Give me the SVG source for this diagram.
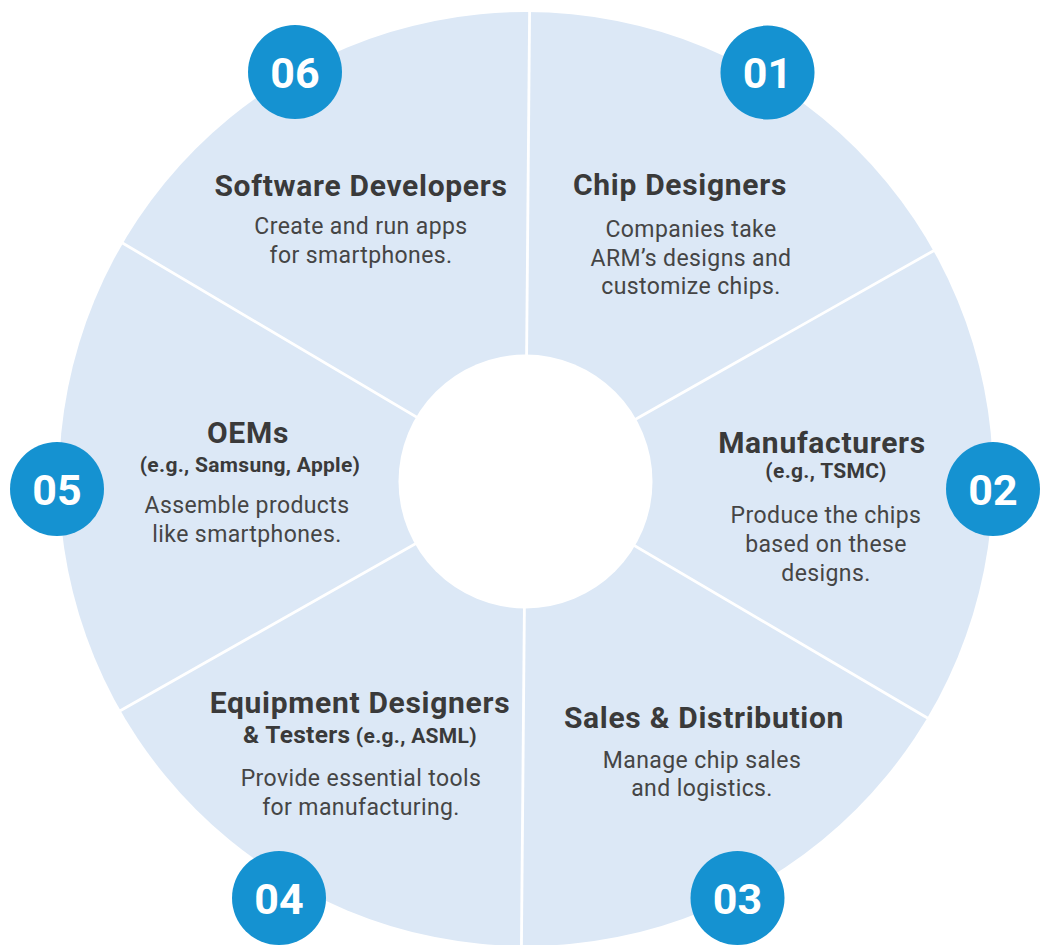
<svg xmlns="http://www.w3.org/2000/svg" width="1043" height="945" viewBox="0 0 1043 945">
<style>
.title{font-family:Roboto,"Liberation Sans",sans-serif;font-weight:700;font-size:30px;fill:#3a3a3a;text-anchor:middle;letter-spacing:0.7px}
.sub{font-family:Roboto,"Liberation Sans",sans-serif;font-weight:700;font-size:21px;fill:#3a3a3a;text-anchor:middle;letter-spacing:0.3px}
.big{font-size:24.5px}
.body{font-family:Roboto,"Liberation Sans",sans-serif;font-weight:400;font-size:23px;fill:#454545;text-anchor:middle;letter-spacing:0.4px}
.badge{fill:#1592d1}
.num{font-family:Roboto,"Liberation Sans",sans-serif;font-weight:700;font-size:43px;fill:#ffffff;text-anchor:middle}
.div{stroke:#ffffff;stroke-width:2.8;fill:none}
</style>
<rect width="1043" height="945" fill="#ffffff"/>
<circle id="ring" cx="526" cy="479" r="467" fill="#dce8f6"/>
<g id="connectors">
<line class="div" x1="525.5" y1="481.5" x2="529.6" y2="12"/>
<line class="div" x1="525.5" y1="481.5" x2="934.5" y2="250.2"/>
<line class="div" x1="525.5" y1="481.5" x2="930" y2="719.5"/>
<line class="div" x1="525.5" y1="481.5" x2="521.4" y2="950"/>
<line class="div" x1="525.5" y1="481.5" x2="118" y2="712"/>
<line class="div" x1="525.5" y1="481.5" x2="122.5" y2="243"/>
</g>
<circle id="hub" cx="525.5" cy="481.5" r="127" fill="#ffffff"/>
<g id="node-01">
<text class="title" x="680" y="195">Chip Designers</text>
<text class="body" x="691" y="237">Companies take</text>
<text class="body" x="691" y="266">ARM’s designs and</text>
<text class="body" x="691" y="294">customize chips.</text>
<circle class="badge" cx="767.5" cy="72.5" r="47"/>
<text class="num" x="767.5" y="88">01</text>
</g>
<g id="node-02">
<text class="title" x="822" y="453">Manufacturers</text>
<text class="sub" x="826" y="478">(e.g., TSMC)</text>
<text class="body" x="826" y="523">Produce the chips</text>
<text class="body" x="826" y="552">based on these</text>
<text class="body" x="826" y="581">designs.</text>
<circle class="badge" cx="993" cy="489" r="47"/>
<text class="num" x="993" y="504.5">02</text>
</g>
<g id="node-03">
<text class="title" x="704" y="728">Sales &amp; Distribution</text>
<text class="body" x="702" y="768">Manage chip sales</text>
<text class="body" x="702" y="796">and logistics.</text>
<circle class="badge" cx="737.5" cy="898" r="47"/>
<text class="num" x="737.5" y="913.5">03</text>
</g>
<g id="node-04">
<text class="title" x="360" y="713">Equipment Designers</text>
<text class="sub" x="360" y="743"><tspan class="big">&amp; Testers</tspan> (e.g., ASML)</text>
<text class="body" x="361" y="786">Provide essential tools</text>
<text class="body" x="361" y="815">for manufacturing.</text>
<circle class="badge" cx="279" cy="898" r="47"/>
<text class="num" x="279" y="913.5">04</text>
</g>
<g id="node-05">
<text class="title" x="248" y="443">OEMs</text>
<text class="sub" x="250" y="472">(e.g., Samsung, Apple)</text>
<text class="body" x="247" y="513">Assemble products</text>
<text class="body" x="247" y="542">like smartphones.</text>
<circle class="badge" cx="57" cy="489" r="47"/>
<text class="num" x="57" y="504.5">05</text>
</g>
<g id="node-06">
<text class="title" x="361" y="196">Software Developers</text>
<text class="body" x="361" y="234">Create and run apps</text>
<text class="body" x="361" y="263">for smartphones.</text>
<circle class="badge" cx="295" cy="72" r="47"/>
<text class="num" x="295" y="87.5">06</text>
</g>
</svg>
